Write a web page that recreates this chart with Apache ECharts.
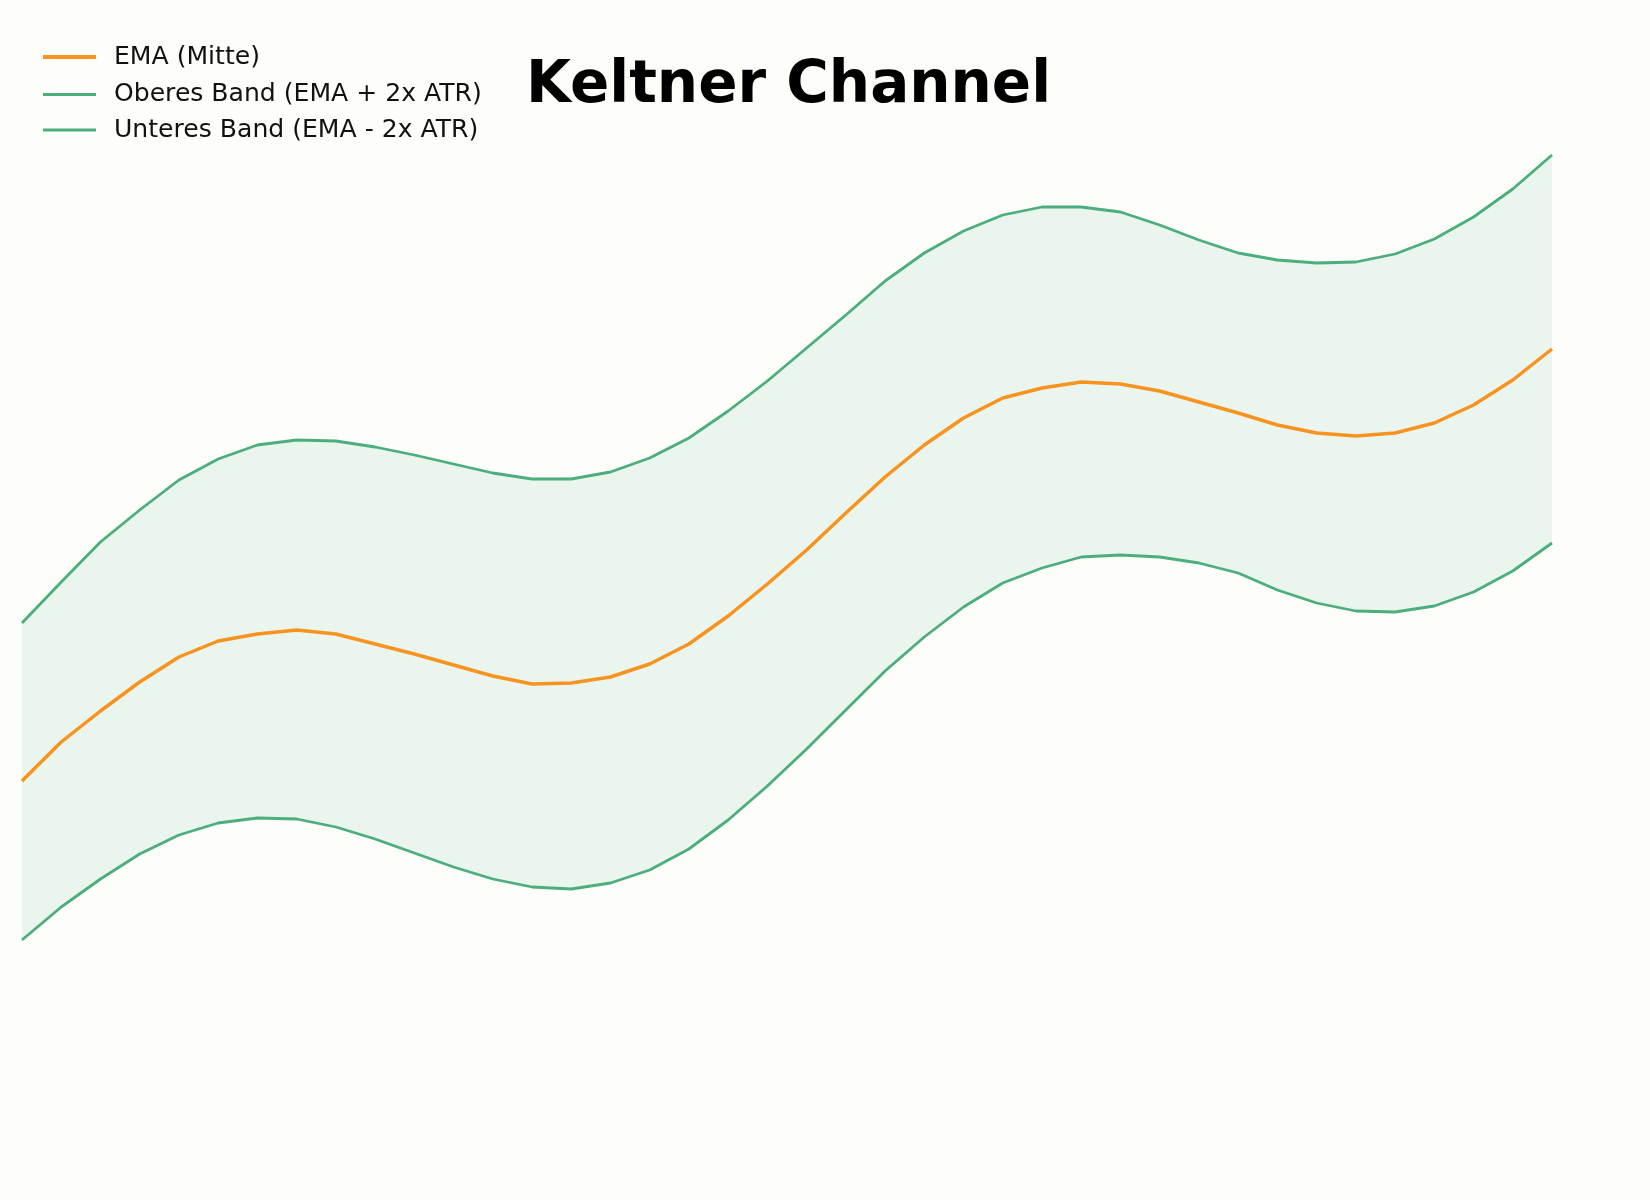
<!DOCTYPE html>
<html>
<head>
<meta charset="utf-8">
<script src="https://cdn.jsdelivr.net/npm/echarts@6/dist/echarts.min.js"></script>
<style>
  html, body { margin: 0; padding: 0; background: #fdfdf9; }
  #chart { width: 1650px; height: 1200px; }
</style>
</head>
<body>
<div id="chart"></div>
<script>
const periods = Array.from({length: 40}, (_, i) => 'T' + (i + 1));

const emaValues = [
  41.9, 45.8, 48.9, 51.8, 54.3, 55.9, 56.6, 57.0, 56.6, 55.6,
  54.6, 53.5, 52.4, 51.6, 51.7, 52.3, 53.6, 55.6, 58.4, 61.6,
  65.0, 68.7, 72.3, 75.5, 78.2, 80.2, 81.2, 81.8, 81.6, 80.9,
  79.8, 78.7, 77.5, 76.7, 76.4, 76.7, 77.7, 79.5, 82.0, 85.1
];

const upperBand = [
  57.7, 61.8, 65.8, 69.0, 72.0, 74.1, 75.5, 76.0, 75.9, 75.3,
  74.5, 73.6, 72.7, 72.1, 72.1, 72.8, 74.2, 76.2, 78.9, 81.9,
  85.2, 88.5, 91.9, 94.7, 96.9, 98.5, 99.3, 99.3, 98.8, 97.5,
  96.0, 94.7, 94.0, 93.7, 93.8, 94.6, 96.1, 98.3, 101.1, 104.5
];

const lowerBand = [
  26.0, 29.3, 32.1, 34.6, 36.5, 37.7, 38.2, 38.1, 37.3, 36.1,
  34.7, 33.3, 32.1, 31.3, 31.1, 31.7, 33.0, 35.1, 38.0, 41.4,
  45.1, 49.0, 52.9, 56.3, 59.3, 61.7, 63.2, 64.3, 64.5, 64.3,
  63.7, 62.7, 61.0, 59.7, 58.9, 58.8, 59.4, 60.8, 62.9, 65.7
];

const labels = {
  title: 'Keltner Channel',
  ema: 'EMA (Mitte)',
  upper: 'Oberes Band (EMA + 2x ATR)',
  lower: 'Unteres Band (EMA - 2x ATR)'
};

const bandWidth = upperBand.map((u, i) => +(u - lowerBand[i]).toFixed(2));

const ORANGE = '#f7931e';
const GREEN = '#4cae7c';
const FILL = '#e9f5ed';

const legendText = {
  fontFamily: 'DejaVu Sans',
  fontSize: 25.1,
  lineHeight: 25,
  color: '#111',
  padding: [3, 0, 0, 13]
};

function legendFor(name, top, thickness) {
  return {
    orient: 'vertical',
    left: 43,
    top: top,
    padding: 0,
    itemWidth: 53,
    itemHeight: thickness,
    icon: 'rect',
    data: [name],
    textStyle: legendText
  };
}

const chart = echarts.init(document.getElementById('chart'), null, { renderer: 'canvas' });

chart.setOption({
  backgroundColor: '#fdfdf9',
  animation: false,
  title: {
    text: labels.title,
    left: 521,
    top: 53,
    textStyle: {
      fontFamily: 'DejaVu Sans',
      fontSize: 58,
      fontWeight: 'bold',
      color: '#000'
    }
  },
  legend: [
    legendFor(labels.ema, 43, 3.8),
    legendFor(labels.upper, 80.5, 3),
    legendFor(labels.lower, 116, 3)
  ],
  grid: { left: 22, right: 98, top: 0, bottom: 0 },
  xAxis: {
    type: 'category',
    data: periods,
    boundaryGap: false,
    show: false
  },
  yAxis: {
    type: 'value',
    min: 0,
    max: 120,
    show: false
  },
  series: [
    {
      name: 'base',
      type: 'line',
      data: lowerBand,
      stack: 'band',
      symbol: 'none',
      silent: true,
      lineStyle: { opacity: 0 },
      z: 1
    },
    {
      name: 'fill',
      type: 'line',
      data: bandWidth,
      stack: 'band',
      symbol: 'none',
      silent: true,
      lineStyle: { opacity: 0 },
      areaStyle: { color: FILL, opacity: 1 },
      z: 1
    },
    {
      name: labels.upper,
      type: 'line',
      data: upperBand,
      symbol: 'none',
      color: GREEN,
      lineStyle: { color: GREEN, width: 2.8 },
      z: 3
    },
    {
      name: labels.lower,
      type: 'line',
      data: lowerBand,
      symbol: 'none',
      color: GREEN,
      lineStyle: { color: GREEN, width: 2.8 },
      z: 3
    },
    {
      name: labels.ema,
      type: 'line',
      data: emaValues,
      symbol: 'none',
      color: ORANGE,
      lineStyle: { color: ORANGE, width: 3.5 },
      z: 4
    }
  ]
});
</script>
</body>
</html>
